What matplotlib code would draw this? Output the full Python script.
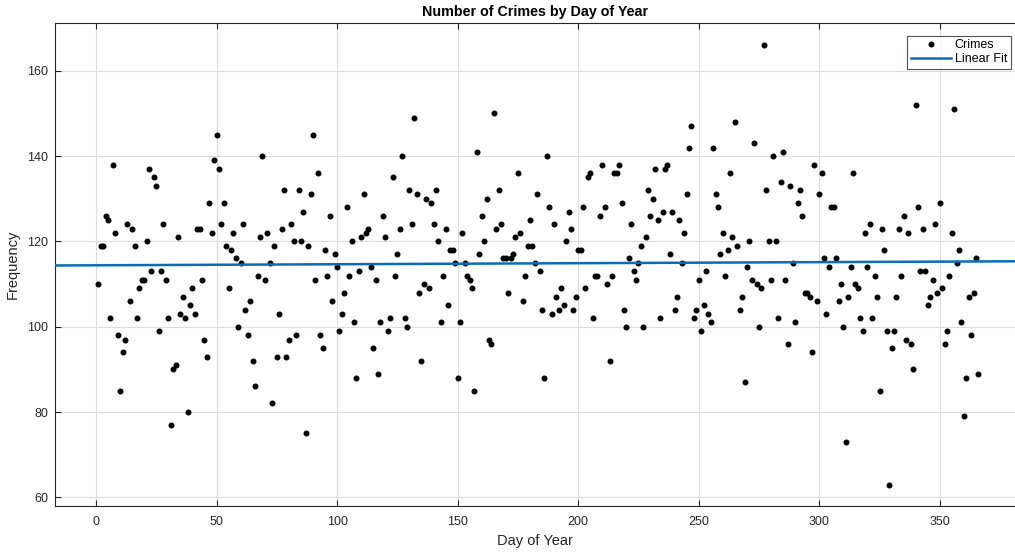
import numpy as np
import matplotlib
matplotlib.use("Agg")
import matplotlib.pyplot as plt

plt.rcParams['font.family'] = ['Liberation Sans', 'DejaVu Sans']

# Daily crime counts, day 1 .. day 366
counts = [
    110, 119, 119, 126, 125, 102, 138, 122, 98, 85,
    94, 97, 124, 106, 123, 119, 102, 109, 111, 111,
    120, 137, 113, 135, 133, 99, 113, 124, 111, 102,
    77, 90, 91, 121, 103, 107, 102, 80, 105, 109,
    103, 123, 123, 111, 97, 93, 129, 122, 139, 145, 137,
    124, 129, 119, 109, 118, 122, 116, 100, 115, 124,
    104, 98, 106, 92, 86, 112, 121, 140, 111, 122,
    115, 82, 119, 93, 103, 123, 132, 93, 97, 124,
    120, 98, 132, 120, 127, 75, 119, 131, 145, 111,
    136, 98, 95, 118, 112, 126, 106, 117, 114, 99,
    103, 108, 128, 112, 120, 101, 88, 113, 121, 131,
    122, 123, 114, 95, 111, 89, 101, 126, 121, 99,
    102, 135, 112, 117, 123, 140, 102, 100, 132, 124,
    149, 131, 108, 92, 110, 130, 109, 129, 124, 132,
    120, 101, 112, 123, 105, 118, 118, 115, 88, 101,
    122, 115, 112, 111, 109, 85, 141, 117, 126, 120,
    130, 97, 96, 150, 123, 132, 124, 116, 116, 108,
    116, 117, 121, 136, 122, 106, 112, 119, 125, 119,
    115, 131, 113, 104, 88, 140, 128, 103, 124, 107,
    104, 109, 105, 120, 127, 123, 104, 107, 118,
    118, 128, 109, 135, 136, 102, 112, 112, 126, 138, 128,
    110, 92, 112, 136, 136, 138, 129, 104, 100, 116,
    124, 113, 111, 115, 119, 100, 121, 132, 126, 130,
    137, 125, 102, 127, 137, 138, 117, 127, 104, 107,
    125, 115, 122, 131, 142, 147, 102, 104, 111,
    99, 105, 113, 103, 101, 142, 131, 128, 117, 122,
    112, 118, 136, 121, 148, 119, 104, 107, 87, 114,
    120, 111, 143, 110, 100, 109, 166, 132, 120, 111,
    140, 120, 102, 134, 141, 111, 96, 133, 115, 101,
    129, 132, 126, 108, 108, 107, 94, 138, 106, 131,
    136, 116, 103, 114, 128, 128, 116, 106, 110, 100,
    73, 107, 114, 136, 110, 109, 102, 99, 122, 114,
    124, 102, 112, 107, 85, 123, 118, 99, 63, 95,
    99, 107, 123, 112, 126, 97, 122, 96, 90, 152,
    128, 113, 123, 113, 105, 107, 111, 124, 108, 129,
    109, 96, 99, 112, 122, 151, 115, 118, 101, 79,
    88, 107, 98, 108, 116, 89,
]
days = np.arange(1, len(counts) + 1)

x_ticks = [0, 50, 100, 150, 200, 250, 300, 350]
y_ticks = [60, 80, 100, 120, 140, 160]
x_limits = (-17, 381.2)
y_limits = (57.9, 171.2)

# least-squares straight line through the daily counts
slope, intercept = np.polyfit(days, counts, 1)

fig = plt.figure(figsize=(10.15, 5.52), dpi=100)
ax = fig.add_axes([0.0542, 0.0828, 0.9458, 0.8755])

ax.plot(days, counts, linestyle='none', marker='o', markersize=3.3,
        color='black', label='Crimes', zorder=3)
fit_x = np.array(x_limits)
ax.plot(fit_x, slope * fit_x + intercept, color='#0a6cb6', linewidth=1.8,
        label='Linear Fit', zorder=4)

ax.set_xlim(*x_limits)
ax.set_ylim(*y_limits)
ax.set_xticks(x_ticks)
ax.set_yticks(y_ticks)

ax.grid(True, color='#dcdcdc', linewidth=0.8)
ax.set_axisbelow(True)
ax.tick_params(direction='in', length=4, width=0.8, colors='#262626',
               labelsize=9, labelcolor='#262626', top=True)
ax.tick_params(axis='x', pad=7)
ax.tick_params(axis='y', pad=5)
for side in ('left', 'bottom', 'top'):
    ax.spines[side].set_color('#262626')
    ax.spines[side].set_linewidth(0.8)
ax.spines['right'].set_visible(False)

ax.set_title('Number of Crimes by Day of Year', fontsize=10.3, fontweight='bold',
             color='black', pad=5)
ax.set_xlabel('Day of Year', fontsize=10.5, color='#262626', labelpad=4)
ax.set_ylabel('Frequency', fontsize=10.5, color='#262626', labelpad=5)

leg = ax.legend(loc='upper right', bbox_to_anchor=(0.9985, 0.979), fontsize=9,
                frameon=True, fancybox=False, borderpad=0.3, labelspacing=0.15,
                handlelength=3.2, handletextpad=0.3, borderaxespad=0.2)
leg.get_frame().set_edgecolor('#262626')
leg.get_frame().set_linewidth(0.8)

fig.savefig('out.png', dpi=100)
